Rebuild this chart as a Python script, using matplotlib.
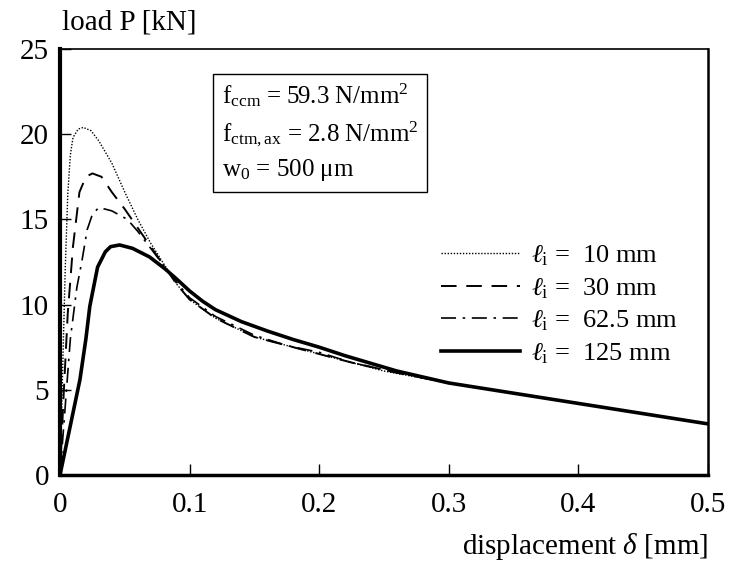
import numpy as np
import matplotlib.pyplot as plt

plt.rcParams['font.family'] = ['Liberation Serif', 'DejaVu Serif']
plt.rcParams['mathtext.fontset'] = 'custom'
plt.rcParams['mathtext.rm'] = 'Liberation Serif'
plt.rcParams['mathtext.it'] = 'Liberation Serif:italic'

# l_i = 10 mm (dotted)
x10 = [0, 0.002, 0.004, 0.006, 0.008, 0.010, 0.014, 0.018, 0.024, 0.030, 0.040,
       0.050, 0.060, 0.070, 0.080, 0.090, 0.100, 0.120, 0.150, 0.200, 0.250, 0.300]
p10 = [0, 6.0, 12.0, 16.5, 18.8, 19.8, 20.3, 20.4, 20.2, 19.6, 18.3,
       16.6, 15.0, 13.6, 12.4, 11.2, 10.3, 9.2, 8.1, 7.1, 6.1, 5.4]

# l_i = 30 mm (dashed)
x30 = [0, 0.003, 0.006, 0.010, 0.015, 0.020, 0.025, 0.032, 0.040, 0.050, 0.060,
       0.070, 0.080, 0.090, 0.100, 0.120, 0.150, 0.175, 0.200, 0.225, 0.260, 0.300]
p30 = [0, 5.0, 9.5, 13.4, 16.6, 17.5, 17.7, 17.5, 16.6, 15.6, 14.5,
       13.4, 12.3, 11.2, 10.3, 9.2, 8.1, 7.6, 7.1, 6.6, 6.0, 5.4]

# l_i = 62.5 mm (dash-dot)
x62 = [0, 0.004, 0.008, 0.013, 0.017, 0.021, 0.025, 0.030, 0.040, 0.052, 0.060,
       0.070, 0.080, 0.090, 0.100, 0.120, 0.150, 0.175, 0.200, 0.225, 0.260, 0.300]
p62 = [0, 4.0, 8.0, 11.0, 12.6, 14.4, 15.3, 15.7, 15.5, 15.0, 14.3,
       13.3, 12.3, 11.3, 10.4, 9.3, 8.2, 7.6, 7.2, 6.6, 6.0, 5.4]

# l_i = 125 mm (solid)
x125 = [0, 0.0154, 0.020, 0.023, 0.029, 0.035, 0.039, 0.046, 0.056, 0.069, 0.081,
        0.090, 0.100, 0.110, 0.120, 0.140, 0.160, 0.180, 0.200, 0.220, 0.240, 0.260,
        0.280, 0.300, 0.350, 0.400, 0.450, 0.500]
p125 = [0, 5.6, 8.0, 9.9, 12.2, 13.1, 13.4, 13.5, 13.3, 12.8, 12.1,
        11.5, 10.8, 10.2, 9.7, 9.0, 8.45, 7.95, 7.5, 7.0, 6.55, 6.1,
        5.75, 5.4, 4.8, 4.2, 3.6, 3.0]

labels = [r'$\ell_{\mathrm{i}}$ =  10 mm', r'$\ell_{\mathrm{i}}$ =  30 mm',
          r'$\ell_{\mathrm{i}}$ =  62.5 mm', r'$\ell_{\mathrm{i}}$ =  125 mm']

xticks = [0, 0.1, 0.2, 0.3, 0.4, 0.5]
xticklabels = ['0', '0.1', '0.2', '0.3', '0.4', '0.5']
yticks = [0, 5, 10, 15, 20, 25]

fig = plt.figure(figsize=(7.31, 5.64), dpi=100)
ax = fig.add_axes([60 / 731, 1 - 475 / 564, 648 / 731, 426 / 564])

ax.plot(x10, p10, color='black', lw=1.0, linestyle=(0, (1, 1.2)), label=labels[0])
ax.plot(x30, p30, color='black', lw=1.4, linestyle=(0, (8, 5)), label=labels[1])
ax.plot(x62, p62, color='black', lw=1.2, linestyle=(0, (9, 4, 1.5, 4)), label=labels[2])
ax.plot(x125, p125, color='black', lw=2.6, label=labels[3])

ax.set_xlim(0, 0.5)
ax.set_ylim(0, 25)
ax.set_xticks(xticks)
ax.set_xticklabels(xticklabels)
ax.set_yticks(yticks)
ax.tick_params(direction='in', length=8, width=1, labelsize=21, top=False, right=False)
ax.tick_params(axis='x', pad=12)
ax.tick_params(axis='y', pad=8)

ax.spines['left'].set_linewidth(3)
ax.spines['bottom'].set_linewidth(2.5)
ax.spines['top'].set_linewidth(1.2)
ax.spines['right'].set_linewidth(1.8)

fig.text(62 / 731, 1 - 30 / 564, 'load P [kN]', fontsize=21, ha='left', va='baseline')
fig.text(708 / 731, 1 - 554 / 564, r'displacement $\delta$ [mm]', fontsize=21,
         ha='right', va='baseline')

info = ('$\\mathrm{f_{ccm}}$ = 59.3 N/mm$^2$\n'
        '$\\mathrm{f_{ctm,ax}}$ = 2.8 N/mm$^2$\n'
        '$\\mathrm{w_0}$ = 500 $\\mathrm{\\mu}$m')
ax.text(0.25, 0.925, info, transform=ax.transAxes, fontsize=18, va='top', ha='left',
        linespacing=1.45,
        bbox=dict(boxstyle='square,pad=0.35', facecolor='white', edgecolor='black', lw=1))

ax.legend(loc='center right', bbox_to_anchor=(0.99, 0.40), frameon=False,
          fontsize=19, handlelength=3.0, handletextpad=0.4, labelspacing=0.3)

fig.savefig('out.png', dpi=100)
